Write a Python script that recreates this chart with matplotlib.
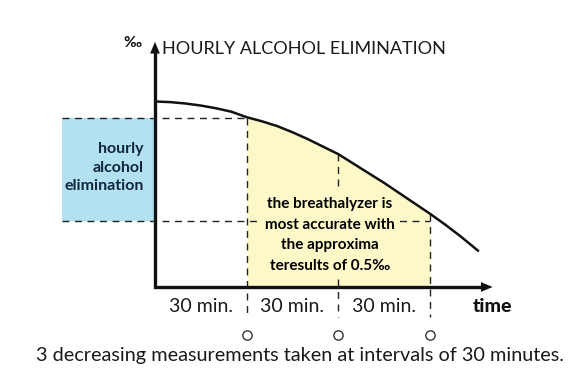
import matplotlib.pyplot as plt
import numpy as np

plt.rcParams['font.family'] = ['Lato', 'DejaVu Sans']

# alcohol level curve (time in minutes, level in per mille)
t_min = np.array([0, 5, 10, 15, 20, 25, 30, 35, 40, 45, 50, 55, 60,
                  65, 70, 75, 80, 85, 90, 95, 100, 106])
level = np.array([0.271, 0.270, 0.268, 0.265, 0.261, 0.256, 0.248, 0.242, 0.235, 0.226,
                  0.216, 0.205, 0.194, 0.180, 0.166, 0.152, 0.137, 0.122, 0.107,
                  0.091, 0.074, 0.052])

measure_t = [30, 60, 90]                 # the 3 measurements
interval_labels = ['30 min.', '30 min.', '30 min.']
interval_mid = [15, 45, 75]
upper_level = 0.247                      # level at first measurement
lower_level = 0.097                      # level after one hour
box_left = -30.4

# layout: minutes and per mille -> pixels
px_min = 275 / 90
px_unit = 684.7
W, H = 583, 374
x0, y0 = 155, 87

fig = plt.figure(figsize=(W / 100, H / 100), dpi=100)
ax = fig.add_axes([0, 0, 1, 1])
ax.set_xlim(-x0 / px_min, (W - x0) / px_min)
ax.set_ylim(-y0 / px_unit, (H - y0) / px_unit)
ax.axis('off')

# yellow zone between 1st and 3rd measurement
sel = (t_min >= measure_t[0]) & (t_min <= measure_t[-1])
ax.fill_between(t_min[sel], 0, level[sel], color='#fdf8c8', lw=0, zorder=1)

# blue box = hourly elimination
ax.fill_between([box_left, 0], lower_level, upper_level, color='#b2e1f2', lw=0, zorder=1)
ax.text(-3.6, (upper_level + lower_level) / 2 + 0.002, 'hourly\nalcohol\nelimination',
        ha='right', va='center', fontsize=11.5, fontweight='bold',
        color='#12263a', linespacing=1.4, zorder=3)

# dashed guide lines
dash = dict(color='#222222', lw=1.0, dashes=(5, 4), zorder=2)
ax.plot([box_left, measure_t[0]], [upper_level, upper_level], **dash)
ax.plot([box_left, measure_t[-1]], [lower_level, lower_level], **dash)
bottom = -0.0434
tops = [upper_level, level[t_min == 60][0], level[t_min == 90][0]]
for tm, top in zip(measure_t, tops):
    ax.plot([tm, tm], [top, bottom], **dash)

ax.text(57.3, 0.076, 'the breathalyzer is\nmost accurate with\nthe approxima\nteresults of 0.5‰',
        ha='center', va='center', fontsize=11, fontweight='bold', color='#000000',
        linespacing=1.6, zorder=3,
        bbox=dict(boxstyle='square,pad=0.3', fc='#fdf8c8', ec='none'))

# curve
ax.plot(t_min, level, color='#111111', lw=1.8, zorder=4, solid_capstyle='butt',
        solid_joinstyle='round')

# axes with arrows
ax.plot([0, 0, 108], [0.345, 0, 0], color='#111111', lw=2.4, zorder=5,
        solid_joinstyle='miter', solid_capstyle='butt')
arrow = dict(arrowstyle='-|>,head_length=0.6,head_width=0.25', color='#111111', lw=0,
             shrinkA=0, shrinkB=0, mutation_scale=14)
ax.annotate('', xy=(110.5, 0), xytext=(106, 0), arrowprops=arrow, zorder=5)
ax.annotate('', xy=(0, 0.358), xytext=(0, 0.340), arrowprops=arrow, zorder=5)

ax.text(-7.4, 0.356, '‰', ha='center', va='center', fontsize=11, fontweight='bold',
        color='#111111')
ax.text(2.3, 0.348, 'HOURLY ALCOHOL ELIMINATION', ha='left', va='center',
        fontsize=13, color='#1a1a1a')

for xm, lab in zip(interval_mid, interval_labels):
    ax.text(xm, -0.029, lab, ha='center', va='center', fontsize=14, color='#1a1a1a')
ax.text(110.6, -0.029, 'time', ha='center', va='center', fontsize=14,
        fontweight='black', color='#111111')

ax.scatter(measure_t, [-0.070] * 3, s=45, facecolor='white', edgecolor='#222222',
           lw=0.9, zorder=5)
ax.text(47.5, -0.0995, '3 decreasing measurements taken at intervals of 30 minutes.',
        ha='center', va='center', fontsize=14.3, color='#1a1a1a')

fig.savefig('out.png', dpi=100)
